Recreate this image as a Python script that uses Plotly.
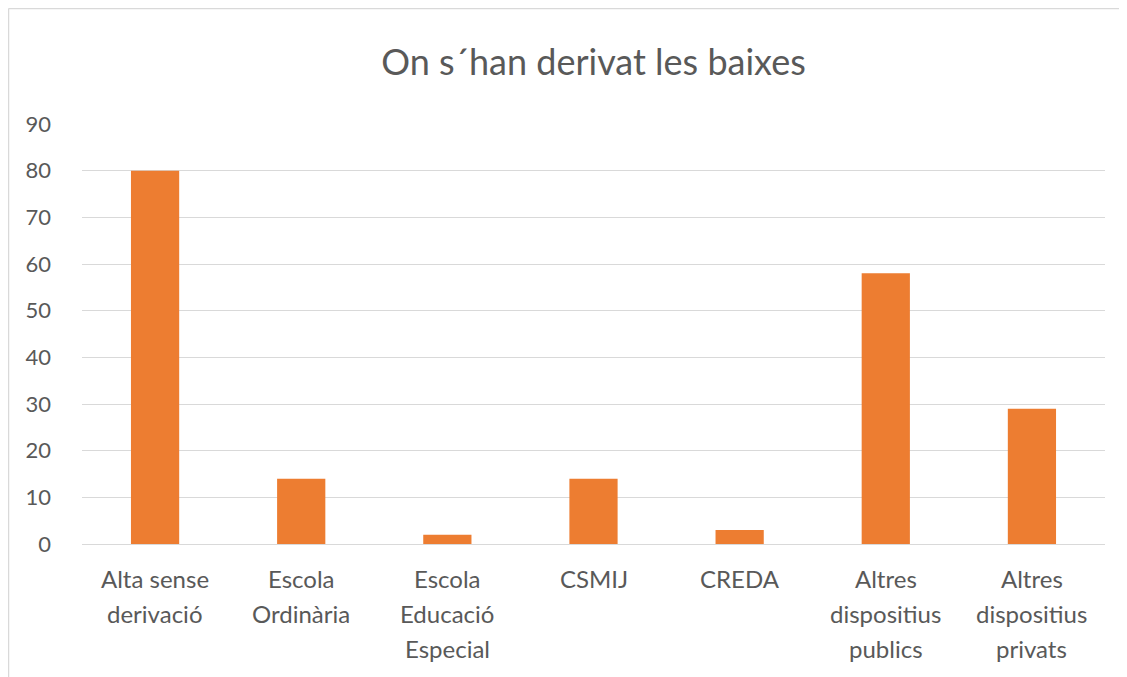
import plotly.graph_objects as go

categories = [
    "Alta sense<br>derivació",
    "Escola<br>Ordinària",
    "Escola<br>Educació<br>Especial",
    "CSMIJ",
    "CREDA",
    "Altres<br>dispositius<br>publics",
    "Altres<br>dispositius<br>privats",
]
values = [80, 14, 2, 14, 3, 58, 29]
y_ticks = [0, 10, 20, 30, 40, 50, 60, 70, 80, 90]

TEXT = "#595959"
FONT = "Lato"

# page body adds an 8px offset; size the figure so it fits the window exactly
W, H = 1119, 669
L, R, T, B = 74, 22, 116, 133
PW = W - L - R
PH = H - T - B

fig = go.Figure(
    go.Bar(x=categories, y=values, marker=dict(color="#ED7D31", line=dict(width=0)))
)

fig.update_layout(
    width=W,
    height=H,
    margin=dict(l=L, r=R, t=T, b=B),
    paper_bgcolor="white",
    plot_bgcolor="white",
    bargap=0.67,
    showlegend=False,
    title=dict(
        text="On s´han derivat les baixes",
        x=(L + PW / 2) / W,
        xanchor="center",
        y=1 - 54 / H,
        yanchor="middle",
        font=dict(family=FONT, size=36, color=TEXT),
    ),
    font=dict(family=FONT, color=TEXT, size=24),
)

fig.update_yaxes(
    range=[0, 90],
    tickvals=y_ticks,
    showgrid=True,
    gridcolor="#D9D9D9",
    gridwidth=1,
    zeroline=False,
    showline=False,
    ticks="",
    ticklabelstandoff=30,
    tickfont=dict(family=FONT, size=22, color=TEXT),
)
fig.update_xaxes(
    showline=True,
    linecolor="#D9D9D9",
    linewidth=1,
    ticks="",
    showticklabels=False,
)

# category labels with Excel-like line spacing
for cat in categories:
    for j, line in enumerate(cat.split("<br>")):
        fig.add_annotation(
            x=cat,
            xref="x",
            y=0,
            yref="paper",
            text=line,
            showarrow=False,
            xanchor="center",
            yanchor="middle",
            yshift=-(34 + 35 * j),
            font=dict(family=FONT, size=24, color=TEXT),
        )

# chart-area frame (left and top edges)
fx0 = (0.5 - L) / PW
fy1 = (T + PH - 0.5) / PH
fig.add_shape(type="line", xref="paper", yref="paper", x0=fx0, x1=fx0, y0=-0.6, y1=fy1,
              line=dict(color="#D9D9D9", width=1.5), layer="below")
fig.add_shape(type="line", xref="paper", yref="paper", x0=fx0, x1=1.2, y0=fy1, y1=fy1,
              line=dict(color="#D9D9D9", width=1.5), layer="below")

fig.write_html("out.html")
